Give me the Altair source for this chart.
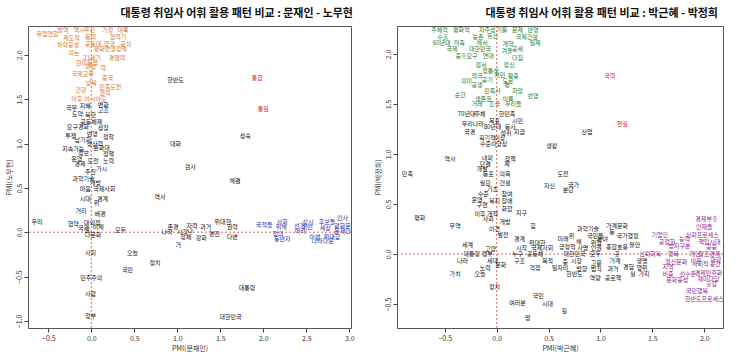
import altair as alt
import pandas as pd

FONT = "Noto Sans CJK KR"

# ---------------- Left panel: 문재인 (x) vs 노무현 (y) ----------------
L_orange_words = ["유럽연합", "방역", "역시", "우선", "가정", "대륙", "제도적", "동력", "협력기", "하락공생",
                  "공동대", "양극", "공식", "평화번영정책", "의논", "21세기", "경쟁력", "한미동맹", "과정", "력",
                  "국제교류", "중국", "남북", "건강", "민족도전", "협력", "이후", "아시아도"]
L_orange_x = [-0.51, -0.33, -0.14, -0.02, 0.19, 0.37, -0.23, -0.01, 0.31, -0.27,
              0.02, 0.21, 0.40, 0.22, -0.20, 0.01, 0.30, -0.05, -0.01, 0.14,
              -0.10, 0.19, 0.00, -0.12, 0.22, 0.16, -0.17, 0.05]
L_orange_y = [2.23, 2.28, 2.28, 2.28, 2.28, 2.28, 2.19, 2.20, 2.20, 2.11,
              2.12, 2.12, 2.12, 2.07, 2.02, 1.96, 1.96, 1.91, 1.86, 1.85,
              1.78, 1.74, 1.68, 1.60, 1.64, 1.57, 1.50, 1.50]

L_red_words = ["통합", "통일"]
L_red_x = [1.93, 2.00]
L_red_y = [1.74, 1.39]

L_blue_words = ["국적들", "사회", "위해", "정의", "동반자", "선거", "상시", "어떤", "어려", "이번",
                "나라다운", "후보들", "인사", "세상", "광화문", "문재인", "위대함"]
L_blue_x = [2.01, 2.22, 2.21, 2.17, 2.22, 2.42, 2.52, 2.51, 2.43, 2.60,
            2.69, 2.74, 2.92, 2.72, 2.92, 2.92, 2.80]
L_blue_y = [0.08, 0.11, 0.06, -0.02, -0.08, 0.07, 0.11, 0.06, 0.01, -0.05,
            -0.10, 0.12, 0.16, 0.05, 0.07, 0.01, -0.05]

L_black_words = ["국무", "지혜", "변화", "고조", "도약", "북한", "한반도", "공동체제", "요구", "경화",
                 "성장", "투쟁", "번영", "정착", "남기회", "생산력", "성숙", "대화", "지속가능", "문화대",
                 "정보", "정책", "운영", "도전", "노력", "경제", "검사", "가시", "추진", "해결",
                 "과학기술", "개방", "마음", "국제사회", "역사", "시대", "경계", "위", "거리", "배경",
                 "우리", "협약", "대외정", "국가", "이제", "일", "다문화", "모두", "존경", "자력",
                 "과거", "위대한", "권력", "나라", "시각", "나", "정체", "강화", "경진", "다변",
                 "거", "사회", "오늘", "정치", "국민", "민주주의", "대통령", "사람", "정부", "대한민국"]
L_black_x = [-0.23, -0.07, 0.14, 0.14, -0.16, -0.01, 0.98, 0.00, -0.22, -0.09,
             0.14, -0.24, 0.01, 0.20, -0.10, 0.04, 1.79, 0.98, -0.21, 0.12,
             -0.09, 0.20, -0.17, 0.02, 0.20, -0.13, 1.15, 0.12, -0.01, 1.67,
             -0.09, 0.05, -0.07, 0.15, 0.80, -0.07, 0.13, 0.06, -0.12, 0.10,
             -0.63, -0.21, 0.01, -0.09, 0.08, -0.05, 0.02, 0.34, 0.95, 1.17,
             1.33, 1.53, 1.64, 0.88, 1.06, 1.15, 1.10, 1.28, 1.43, 1.64,
             1.01, -0.01, 0.48, 0.74, 0.42, 0.00, 1.81, -0.01, -0.01, 1.62]
L_black_y = [1.40, 1.42, 1.43, 1.38, 1.33, 1.32, 1.72, 1.24, 1.19, 1.19,
             1.17, 1.09, 1.11, 1.07, 1.04, 0.99, 1.09, 0.99, 0.94, 0.95,
             0.89, 0.88, 0.82, 0.80, 0.80, 0.77, 0.74, 0.71, 0.68, 0.58,
             0.60, 0.56, 0.49, 0.49, 0.40, 0.38, 0.38, 0.33, 0.24, 0.20,
             0.12, 0.09, 0.10, 0.05, 0.06, 0.03, -0.03, 0.02, 0.06, 0.07,
             0.06, 0.11, 0.06, 0.00, 0.00, 0.01, -0.05, -0.06, -0.02, -0.05,
             -0.14, -0.23, -0.23, -0.35, -0.43, -0.52, -0.63, -0.70, -0.95, -0.96]

# ---------------- Right panel: 박근혜 (x) vs 박정희 (y) ----------------
R_green_words = ["주체적", "평화적", "자주성", "기틀", "문제", "반영", "수출", "농촌", "유신", "국제건설",
                 "60년대", "저축", "해서", "개혁", "일제", "국제", "대한민국", "겨울", "공세", "중흥요구",
                 "연대", "다짐", "정서", "정신", "정통성", "서민", "적극", "확충", "공기", "도로",
                 "의미", "공생", "평", "민족사", "희망", "번영", "순간", "생존권", "이룩", "거래",
                 "조국", "우리들"]
R_green_x = [-0.55, -0.34, -0.09, 0.05, 0.20, 0.35, -0.52, -0.18, -0.04, 0.29,
             -0.53, -0.36, -0.14, 0.11, 0.37, -0.43, -0.16, 0.10, 0.20, -0.29,
             -0.08, 0.20, -0.15, 0.12, -0.06, 0.03, -0.19, 0.16, -0.09, 0.11,
             -0.29, -0.19, 0.10, -0.04, 0.20, 0.35, -0.35, -0.13, 0.11, -0.19,
             -0.02, 0.16]
R_green_y = [2.24, 2.24, 2.24, 2.24, 2.24, 2.24, 2.17, 2.17, 2.18, 2.17,
             2.11, 2.11, 2.11, 2.10, 2.11, 2.05, 2.05, 2.03, 2.05, 1.98,
             1.98, 1.96, 1.89, 1.89, 1.83, 1.79, 1.78, 1.78, 1.74, 1.73,
             1.73, 1.69, 1.69, 1.63, 1.63, 1.58, 1.59, 1.55, 1.55, 1.50,
             1.50, 1.50]

R_red_words = ["국력", "현실"]
R_red_x = [1.09, 1.21]
R_red_y = [1.78, 1.30]

R_black_words = ["70년대", "주체", "한민족", "우리나라", "목표", "시민", "80년대", "봉사", "국경", "성취",
                 "지금", "산업", "획기적", "이상", "수준이", "향상", "생활", "내외", "역사", "정책",
                 "단결", "제", "개발", "동포", "의욕", "민족", "도전", "필요", "건설", "자신",
                 "국가", "분단", "기초", "수준", "참여", "운영", "복지", "구현", "장애", "평화",
                 "이후", "개척", "화합", "지구", "사회", "개방", "무역", "이견", "발전", "힘",
                 "과학기술", "가계문화", "동", "국민들", "분야", "국가행정", "경계", "위대한", "미래", "위",
                 "해", "위험", "세계", "고양", "시작", "국제사회", "긍정적", "사명", "인권", "종합효용",
                 "불안", "대통령", "정부", "누구", "공동체", "대한민국", "모두", "곳", "나라", "세대",
                 "문화", "노력", "구조", "목적", "중", "시장", "고용", "가계", "생명", "걱정",
                 "일자리", "방향", "법칙", "과거", "경험", "행위", "가치", "오늘", "한반도", "실",
                 "가지", "역량", "공로책", "정치", "국민", "여러분", "시대", "길", "땅"]
R_black_x = [-0.29, -0.16, 0.10, -0.23, -0.02, 0.20, -0.04, 0.13, -0.26, 0.09,
             0.22, 0.87, -0.09, 0.03, -0.08, 0.05, 0.53, -0.09, -0.45, 0.13,
             -0.11, 0.10, -0.14, -0.08, 0.08, -0.86, 0.64, -0.11, 0.08, 0.51,
             0.74, 0.69, -0.04, -0.13, 0.10, -0.19, -0.02, -0.14, 0.10, -0.74,
             -0.16, -0.04, 0.10, 0.24, -0.08, 0.08, -0.40, -0.02, 0.06, 0.35,
             0.88, 1.16, 1.11, 0.95, 1.02, 1.26, 0.22, 0.39, 0.64, 0.72,
             0.79, 0.96, -0.28, -0.06, 0.24, 0.44, 0.68, 0.83, 0.96, 1.16,
             1.33, -0.24, -0.09, 0.20, 0.37, 0.75, 0.95, 1.16, -0.33, -0.04,
             0.04, -0.11, 0.22, 0.49, 0.66, 0.77, 0.96, 1.14, 1.40, 0.37,
             0.61, 0.82, 0.96, 1.12, 1.27, 1.40, -0.40, -0.16, 0.75, 1.31,
             1.42, 0.95, 1.12, -0.02, 0.40, 0.20, 0.49, 0.65, 0.30]
R_black_y = [1.40, 1.40, 1.40, 1.30, 1.33, 1.33, 1.27, 1.27, 1.22, 1.21,
             1.22, 1.22, 1.16, 1.16, 1.10, 1.10, 1.08, 0.96, 0.95, 0.95,
             0.90, 0.90, 0.85, 0.80, 0.80, 0.80, 0.80, 0.71, 0.71, 0.68,
             0.69, 0.64, 0.65, 0.60, 0.60, 0.54, 0.53, 0.49, 0.53, 0.36,
             0.40, 0.40, 0.45, 0.41, 0.35, 0.32, 0.28, 0.25, 0.19, 0.28,
             0.25, 0.28, 0.22, 0.18, 0.15, 0.18, 0.15, 0.11, 0.15, 0.18,
             0.12, 0.11, 0.09, 0.05, 0.06, 0.06, 0.07, 0.06, 0.06, 0.07,
             0.09, 0.00, 0.00, 0.00, 0.00, 0.00, 0.00, 0.00, -0.07, -0.07,
             -0.11, -0.14, -0.07, -0.07, -0.08, -0.07, -0.09, -0.07, -0.07, -0.14,
             -0.14, -0.15, -0.15, -0.15, -0.13, -0.14, -0.20, -0.20, -0.20, -0.20,
             -0.20, -0.24, -0.24, -0.33, -0.42, -0.49, -0.50, -0.57, -0.64]

R_purple_words = ["경제부흥", "인재들", "기업인", "신뢰프로세스", "공정한", "능력", "책임시대", "방지구분", "공중", "신뢰회복",
                  "행복", "개인", "창조경제", "정신문화", "이유", "한강", "지역", "사회적 공간", "비중", "선수촌",
                  "경제민주화", "문화융성", "재미다당", "출항", "국민행복", "한반도프로세스"]
R_purple_x = [2.02, 2.00, 1.57, 1.98, 1.64, 1.81, 2.05, 1.76, 2.07, 1.48,
              1.70, 1.91, 2.05, 1.73, 1.92, 2.11, 1.65, 2.02, 1.65, 1.84,
              2.04, 1.74, 2.04, 2.07, 1.93, 2.00]
R_purple_y = [0.35, 0.27, 0.19, 0.19, 0.12, 0.15, 0.12, 0.08, 0.07, 0.00,
              0.00, 0.00, 0.00, -0.08, -0.07, -0.06, -0.13, -0.10, -0.20, -0.20,
              -0.19, -0.26, -0.25, -0.30, -0.37, -0.45]

L_x_ticks = [-0.5, 0.0, 0.5, 1.0, 1.5, 2.0, 2.5, 3.0]
L_y_ticks = [-1.0, -0.5, 0.0, 0.5, 1.0, 1.5, 2.0]
R_x_ticks = [-0.5, 0.0, 0.5, 1.0, 1.5, 2.0]
R_y_ticks = [-0.5, 0.0, 0.5, 1.0, 1.5, 2.0]

COLORS = {"orange": "#D9771F", "red": "#D42424", "blue": "#2B2BA0",
          "green": "#1E7B2E", "purple": "#8B1E8B", "black": "#111111"}


def frame(groups):
    parts = []
    for g, (w, x, y) in groups.items():
        assert len(w) == len(x) == len(y), g
        parts.append(pd.DataFrame({"word": w, "x": x, "y": y, "group": g}))
    return pd.concat(parts, ignore_index=True)


left_df = frame({"orange": (L_orange_words, L_orange_x, L_orange_y),
                 "red": (L_red_words, L_red_x, L_red_y),
                 "blue": (L_blue_words, L_blue_x, L_blue_y),
                 "black": (L_black_words, L_black_x, L_black_y)})
right_df = frame({"green": (R_green_words, R_green_x, R_green_y),
                  "red": (R_red_words, R_red_x, R_red_y),
                  "purple": (R_purple_words, R_purple_x, R_purple_y),
                  "black": (R_black_words, R_black_x, R_black_y)})


def panel(df, xdom, ydom, xticks, yticks, xtitle, ytitle, title, w, h, dx):
    text = alt.Chart(df).mark_text(font=FONT, fontSize=6).encode(
        x=alt.X("x:Q", scale=alt.Scale(domain=xdom, nice=False, zero=False),
                axis=alt.Axis(values=xticks, format=".1f", title=xtitle)),
        y=alt.Y("y:Q", scale=alt.Scale(domain=ydom, nice=False, zero=False),
                axis=alt.Axis(values=yticks, format=".1f", title=ytitle,
                              labelAngle=270, labelAlign="center", labelBaseline="bottom",
                              minExtent=13, maxExtent=13)),
        text="word:N",
        color=alt.Color("group:N",
                        scale=alt.Scale(domain=list(COLORS.keys()), range=list(COLORS.values())),
                        legend=None),
    )
    one = pd.DataFrame({"a": [0]})
    vline = alt.Chart(one).mark_rule(color="#E04040", strokeDash=[2, 2], strokeWidth=0.8).encode(
        x=alt.datum(0))
    hline = alt.Chart(one).mark_rule(color="#E04040", strokeDash=[2, 2], strokeWidth=0.8).encode(
        y=alt.datum(0))
    return alt.layer(vline, hline, text).properties(
        width=w, height=h,
        title=alt.TitleParams(title, anchor="end", frame="group", fontSize=11, fontWeight="bold",
                              font=FONT, color="#111111", offset=7, dx=dx),
    )


left = panel(left_df, [-0.736, 3.02], [-1.08, 2.325], L_x_ticks, L_y_ticks,
             "PMI(문재인)", "PMI(노무현)", "대통령 취임사 어휘 활용 패턴 비교 : 문재인 - 노무현", 323, 302, 2)
right = panel(right_df, [-0.96, 2.18], [-0.74, 2.28], R_x_ticks, R_y_ticks,
              "PMI(박근혜)", "PMI(박정희)", "대통령 취임사 어휘 활용 패턴 비교 : 박근혜 - 박정희", 326, 302, -5)

chart = alt.hconcat(left, right, spacing=46, bounds="flush").properties(
    padding={"left": 4, "top": 7, "right": 5, "bottom": 5},
    background="white",
).configure_view(
    stroke="#555555", strokeWidth=1
).configure_axis(
    grid=False, domain=False, tickColor="#444444", tickSize=4, labelPadding=2,
    labelFont=FONT, labelFontSize=7, labelColor="#333333",
    titleFont=FONT, titleFontSize=7, titleFontWeight="normal", titleColor="#333333",
    titlePadding=3,
)

chart.save("out.html", embed_options={"renderer": "svg", "actions": False})
